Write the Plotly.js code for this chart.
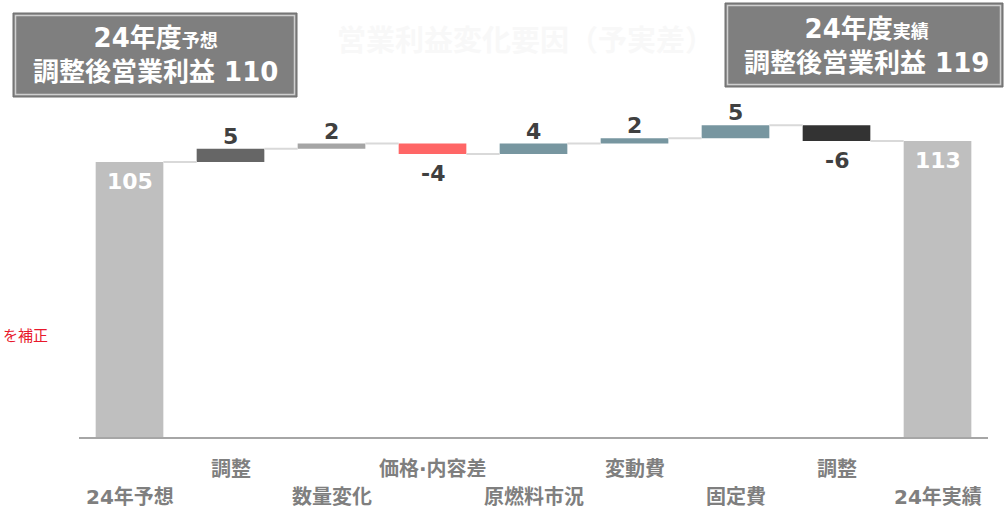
<!DOCTYPE html>
<html>
<head>
<meta charset="utf-8">
<script src="https://cdn.plot.ly/plotly-3.0.1.min.js"></script>
<style>html,body{margin:0;padding:0;background:#fff;}#chart{width:1005px;height:510px;}</style>
</head>
<body>
<div id="chart"></div>
<script>
// ---- data ----
const categories = ["24年予想", "調整", "数量変化", "価格·内容差", "原燃料市況", "変動費", "固定費", "調整", "24年実績"];
const startValue = 105;
const deltas = [5, 2, -4, 4, 2, 5, -6];
const endValue = 113;
const barColors = ["#bfbfbf", "#666666", "#a5a5a5", "#ff6666", "#7796a0", "#7796a0", "#7796a0", "#333333", "#bfbfbf"];
const forecastBoxText = "24年度<span style='font-size:18px'>予想</span><br>調整後営業利益 110";
const actualBoxText = "24年度<span style='font-size:18px'>実績</span><br>調整後営業利益 119";
const chartTitle = "営業利益変化要因（予実差）";
const noteText = "を補正";

// ---- layout constants ----
const L = 79, R = 17, T = 44, B = 73, W = 1005, H = 510;
const pw = W - L - R, ph = H - T - B;
function pxX(px) { return (px - L) / pw; }
function pxY(py) { return (H - B - py) / ph; }

// ---- build waterfall geometry ----
const xs = categories.map((_, i) => i);
const bases = [], heights = [], levels = [];
let level = startValue;
bases.push(0); heights.push(startValue); levels.push(startValue);
deltas.forEach(d => {
  const lo = d >= 0 ? level : level + d;
  bases.push(lo); heights.push(Math.abs(d));
  level += d; levels.push(level);
});
bases.push(0); heights.push(endValue); levels.push(endValue);

const BW = 0.67;
const cx = [], cy = [];
for (let i = 0; i < categories.length - 1; i++) {
  cx.push(i + BW / 2, i + 1 - BW / 2, null);
  cy.push(levels[i], levels[i], null);
}

const traces = [
  { type: "scatter", mode: "lines", x: cx, y: cy, line: { color: "#d9d9d9", width: 2 }, hoverinfo: "skip", showlegend: false },
  { type: "bar", x: xs, y: heights, base: bases, width: BW, marker: { color: barColors }, hoverinfo: "skip", showlegend: false }
];

const annotations = [];
const numFont = { family: "DejaVu Sans, Verdana, sans-serif", size: 22, color: "#404040" };
// totals
[0, categories.length - 1].forEach(i => {
  annotations.push({ x: i, y: heights[i], xref: "x", yref: "y", text: "<b>" + heights[i] + "</b>", showarrow: false,
    yanchor: "top", yshift: -5, font: Object.assign({}, numFont, { color: "#ffffff" }) });
});
// deltas
deltas.forEach((d, k) => {
  const i = k + 1;
  if (d >= 0) {
    annotations.push({ x: i, y: bases[i] + heights[i], xref: "x", yref: "y", text: "<b>" + d + "</b>", showarrow: false,
      yanchor: "bottom", yshift: -2, font: numFont });
  } else {
    annotations.push({ x: i, y: bases[i], xref: "x", yref: "y", text: "<b>" + d + "</b>", showarrow: false,
      yanchor: "top", yshift: -5, font: numFont });
  }
});
// category labels (staggered)
categories.forEach((c, i) => {
  annotations.push({ x: i, y: pxY(i % 2 === 0 ? 497 : 469), xref: "x", yref: "paper", text: "<b>" + c + "</b>", showarrow: false,
    yanchor: "middle", font: { family: "DejaVu Sans, Noto Sans CJK JP, sans-serif", size: 20, color: "#7f7f7f" } });
});
// title (very faint)
annotations.push({ x: pxX(525), y: pxY(38), xref: "paper", yref: "paper", xanchor: "center", yanchor: "middle",
  text: "<b>" + chartTitle + "</b>", showarrow: false, font: { family: "Noto Sans CJK JP", size: 29, color: "#f8f8f8" } });
// box texts
const boxFont = { family: "DejaVu Sans, Noto Sans CJK JP, sans-serif", size: 26, color: "#ffffff" };
annotations.push({ x: pxX(155), y: pxY(55), xref: "paper", yref: "paper", xanchor: "center", yanchor: "middle",
  text: "<b>" + forecastBoxText + "</b>", showarrow: false, align: "center", font: boxFont });
annotations.push({ x: pxX(866), y: pxY(46), xref: "paper", yref: "paper", xanchor: "center", yanchor: "middle",
  text: "<b>" + actualBoxText + "</b>", showarrow: false, align: "center", font: boxFont });
// red note
annotations.push({ x: pxX(50), y: pxY(334), xref: "paper", yref: "paper", xanchor: "right", yanchor: "middle",
  text: noteText, showarrow: false, font: { family: "Noto Sans CJK JP", size: 15, color: "#e8192c" } });

const shapes = [
  { type: "rect", xref: "paper", yref: "paper", x0: pxX(13), x1: pxX(297), y0: pxY(97), y1: pxY(13),
    fillcolor: "#7f7f7f", line: { color: "#6f6f6f", width: 1 }, layer: "below" },
  { type: "rect", xref: "paper", yref: "paper", x0: pxX(15.5), x1: pxX(294.5), y0: pxY(94.5), y1: pxY(15.5),
    fillcolor: "rgba(0,0,0,0)", line: { color: "#cfcfcf", width: 1.5 }, layer: "below" },
  { type: "rect", xref: "paper", yref: "paper", x0: pxX(725), x1: pxX(1003), y0: pxY(87), y1: pxY(3),
    fillcolor: "#7f7f7f", line: { color: "#6f6f6f", width: 1 }, layer: "below" },
  { type: "rect", xref: "paper", yref: "paper", x0: pxX(727.5), x1: pxX(1000.5), y0: pxY(84.5), y1: pxY(5.5),
    fillcolor: "rgba(0,0,0,0)", line: { color: "#cfcfcf", width: 1.5 }, layer: "below" }
];

const layout = {
  width: W, height: H,
  margin: { l: L, r: R, t: T, b: B, pad: 0 },
  paper_bgcolor: "#ffffff", plot_bgcolor: "#ffffff",
  showlegend: false,
  xaxis: { range: [-0.5, categories.length - 0.5], showticklabels: false, ticks: "", showgrid: false, zeroline: false,
    showline: true, linecolor: "#a6a6a6", linewidth: 2, fixedrange: true },
  yaxis: { range: [0, 150], visible: false, showgrid: false, zeroline: false, fixedrange: true },
  annotations: annotations,
  shapes: shapes
};

Plotly.newPlot("chart", traces, layout, { staticPlot: true, displayModeBar: false });
</script>
</body>
</html>
